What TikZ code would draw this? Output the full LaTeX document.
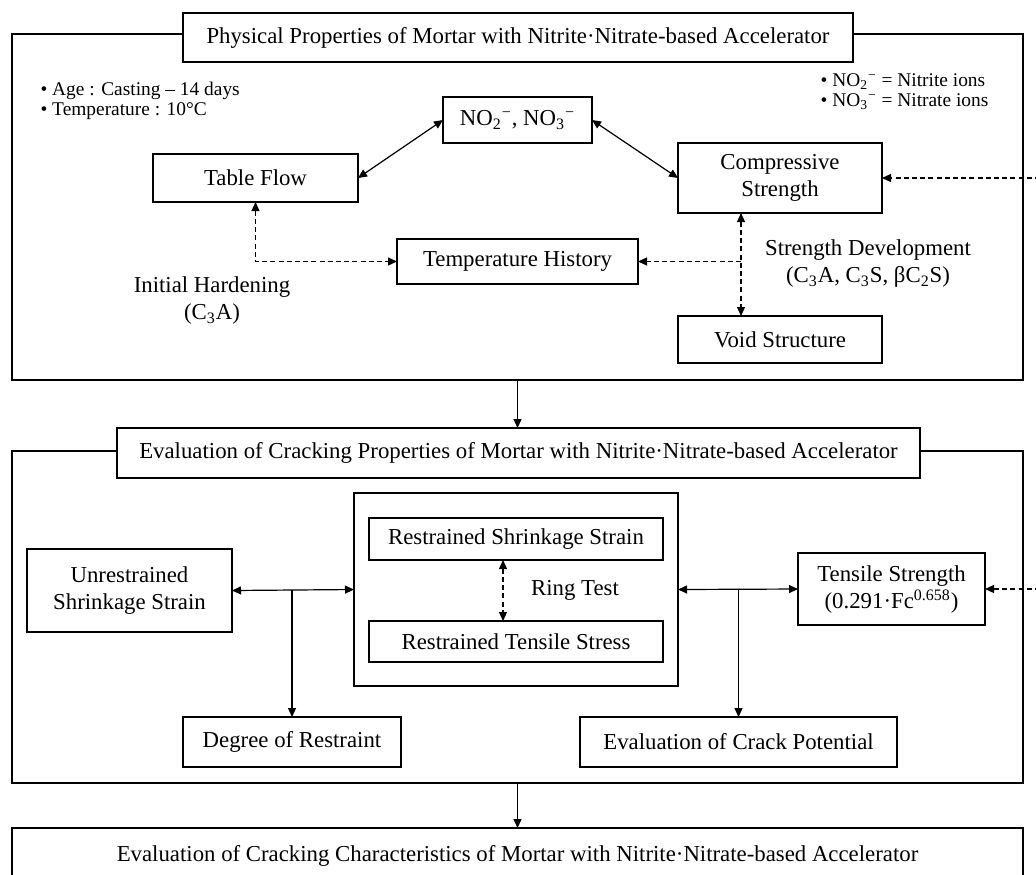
\documentclass[tikz,border=0pt]{standalone}
\usepackage{fontspec}
\setmainfont{Liberation Serif}
\usepackage{tikz}
\usetikzlibrary{arrows.meta}

\begin{document}
\begin{tikzpicture}[x=0.5pt, y=-0.5pt, line width=0.6pt, >={Triangle[length=4.5pt,width=4pt]},
    box/.style={draw, fill=white, inner sep=0pt, outer sep=0pt, align=center, font=\fontsize{11.4}{13.5}\selectfont},
    panel/.style={draw, inner sep=0pt, outer sep=0pt},
    tag/.style={align=center, inner sep=0pt, font=\fontsize{11.4}{13.5}\selectfont},
    note/.style={anchor=west, align=left, inner sep=0pt, font=\fontsize{9.7}{10}\selectfont},
    dline/.style={dash pattern=on 2.5pt off 1.6pt}]

    \useasboundingbox (0,0) rectangle (1036,874);

    \node[panel, minimum width=505.5pt, minimum height=173pt] (p1) at (517.5, 207) {};
    \node[panel, minimum width=505.5pt, minimum height=166pt] (p2) at (517.5, 617) {};

    \node[box, minimum width=335pt, minimum height=24.5pt] (t1) at (518, 37.5) {Physical Properties of Mortar with Nitrite·Nitrate-based Accelerator};
    \node[box, minimum width=74.5pt, minimum height=23pt] (no) at (517.5, 120) {NO\textsubscript{2}\textsuperscript{−}, NO\textsubscript{3}\textsuperscript{−}};
    \node[box, minimum width=102.5pt, minimum height=24pt] (tf) at (255.5, 178) {Table Flow};
    \node[box, minimum width=102pt, minimum height=35pt] (cs) at (780, 178) {Compressive\\Strength};
    \node[box, minimum width=120.5pt, minimum height=22.5pt] (th) at (517.5, 261.5) {Temperature History};
    \node[box, minimum width=102pt, minimum height=23.5pt] (vs) at (780, 339.5) {Void Structure};
    \node[note] (n1) at (40, 101) {• Age : Casting – 14 days\\• Temperature : 10°C};
    \node[note] (n2) at (820, 92) {• NO\textsubscript{2}\textsuperscript{−} = Nitrite ions\\• NO\textsubscript{3}\textsuperscript{−} = Nitrate ions};
    \node[tag] (ih) at (212, 301) {Initial Hardening\\(C\textsubscript{3}A)};
    \node[tag] (sl) at (868, 264) {Strength Development\\(C\textsubscript{3}A, C\textsubscript{3}S, βC\textsubscript{2}S)};
    \coordinate (sd) at (741, 261.5);
    \coordinate (e1) at (1040, 178);

    \node[box, minimum width=401.5pt, minimum height=25pt] (t2) at (518.5, 453) {Evaluation of Cracking Properties of Mortar with Nitrite·Nitrate-based Accelerator};
    \node[box, minimum width=162pt, minimum height=96.5pt] (ring) at (516, 589.5) {};
    \node[box, minimum width=147pt, minimum height=21pt] (rs) at (516, 539) {Restrained Shrinkage Strain};
    \node[box, minimum width=147pt, minimum height=20.5pt] (rt) at (516, 641.5) {Restrained Tensile Stress};
    \node[tag] (rl) at (575, 590) {Ring Test};
    \node[box, minimum width=102.5pt, minimum height=41.5pt] (ur) at (129.5, 590.5) {Unrestrained\\Shrinkage Strain};
    \node[box, minimum width=93.5pt, minimum height=36pt] (ts) at (891.5, 589) {Tensile Strength\\(0.291·Fc\textsuperscript{0.658})};
    \node[box, minimum width=109pt, minimum height=25pt] (dr) at (292, 742) {Degree of Restraint};
    \node[box, minimum width=158.5pt, minimum height=25pt] (cp) at (738.5, 742) {Evaluation of Crack Potential};
    \coordinate (e2) at (1040, 589);

    \node[box, minimum width=505.5pt, minimum height=28pt] (t3) at (517.5, 856) {Evaluation of Cracking Characteristics of Mortar with Nitrite·Nitrate-based Accelerator};

    \draw [<->] (tf.east) to (no.west);
    \draw [<->] (no.east) to (cs.west);
    \draw [dline, <->] (tf.south) |- (th.west);
    \draw [dline, <->] (sd |- cs.south) to (sd |- vs.north);
    \draw [dline, ->] (sd) to (th.east);
    \draw [dline, ->] (e1) to (cs.east);
    \draw [->] (p1.south) to (p1.south |- t2.north);

    \draw [<->] (ur.east) to (ring.west);
    \draw [->] (dr.north |- ring.west) to (dr.north);
    \draw [<->] (ring.east) to (ts.west);
    \draw [->] (cp.north |- ts.west) to (cp.north);
    \draw [dline, <->] ([xshift=-6.5pt]rs.south) to ([xshift=-6.5pt]rt.north);
    \draw [dline, ->] (e2) to (ts.east);
    \draw [->] (p2.south) to (p2.south |- t3.north);

\end{tikzpicture}
\end{document}
